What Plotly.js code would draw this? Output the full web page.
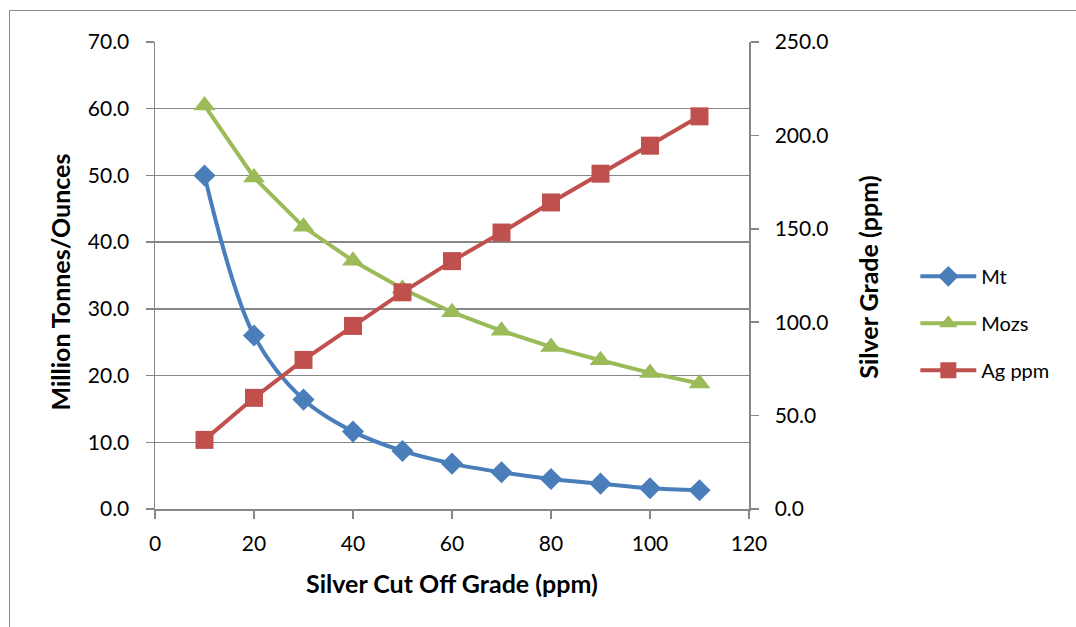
<!DOCTYPE html>
<html>
<head>
<meta charset="utf-8">
<script src="https://cdn.plot.ly/plotly-3.0.1.min.js"></script>
<style>
html,body{margin:0;padding:0;background:#fff;}
#wrap{position:relative;width:1076px;height:627px;overflow:hidden;}
#chart{position:absolute;left:0;top:0;width:1076px;height:627px;}
#frame{position:absolute;left:9px;top:10px;width:1080px;height:630px;border:1px solid #8c8c8c;pointer-events:none;}
</style>
</head>
<body>
<div id="wrap"><div id="chart"></div><div id="frame"></div></div>
<script>
const cutOff = [10, 20, 30, 40, 50, 60, 70, 80, 90, 100, 110];
const mt   = [50.0, 26.0, 16.4, 11.6, 8.7, 6.8, 5.5, 4.5, 3.8, 3.1, 2.8];
const mozs = [60.5, 49.7, 42.3, 37.2, 33.0, 29.5, 26.7, 24.3, 22.3, 20.4, 18.8];
const agPpm = [37.0, 59.5, 79.8, 98.0, 116.0, 132.7, 148.0, 164.1, 179.5, 194.5, 210.2];
const xTicks = [0, 20, 40, 60, 80, 100, 120];
const yLeftTicks = [0, 10, 20, 30, 40, 50, 60, 70];
const yRightTicks = [0, 50, 100, 150, 200, 250];
const xTitle = 'Silver Cut Off Grade (ppm)';
const yLeftTitle = 'Million Tonnes/Ounces';
const yRightTitle = 'Silver Grade (ppm)';

const F = 'Lato, "Open Sans", sans-serif';
const grid = '#878787';

const traces = [
  {x: cutOff, y: mt, name: 'Mt', type: 'scatter', mode: 'lines+markers',
   line: {color: '#4A7EBB', width: 4, shape: 'spline', smoothing: 1},
   marker: {symbol: 'diamond', size: 17, color: '#4A7EBB'},
   legendgroup: 'a'},
  {x: cutOff, y: mozs, name: 'Mozs', type: 'scatter', mode: 'lines+markers',
   line: {color: '#9BBB59', width: 4},
   marker: {symbol: 'triangle-up', size: 19, color: '#9BBB59'},
   legendgroup: 'b'},
  {x: cutOff, y: agPpm, name: 'Ag ppm', type: 'scatter', mode: 'lines+markers', yaxis: 'y2',
   line: {color: '#C0504D', width: 4},
   marker: {symbol: 'square', size: 18, color: '#C0504D'},
   legendgroup: 'c'}
];

const titleFont = {family: F, size: 25, color: '#000'};

const layout = {
  width: 1076, height: 627,
  margin: {l: 155, r: 327, t: 42, b: 118},
  paper_bgcolor: '#fff', plot_bgcolor: '#fff',
  font: {family: F, size: 21, color: '#000'},
  showlegend: true,
  legend: {x: 1.28, xanchor: 'left', y: 0.54, yanchor: 'top',
    font: {family: F, size: 20, color: '#000'}, tracegroupgap: 18,
    itemwidth: 56,
    bgcolor: 'rgba(0,0,0,0)'},
  xaxis: {range: [0, 120], tickvals: xTicks, ticktext: xTicks.map(String),
    showgrid: false, zeroline: false, showline: true, linecolor: grid, linewidth: 1.5,
    ticks: 'outside', ticklen: 8, tickcolor: grid, tickwidth: 1.5,
    ticklabelstandoff: 7,
    tickfont: {family: F, size: 21}},
  yaxis: {range: [0, 70], tickvals: yLeftTicks, ticktext: yLeftTicks.map(v => v.toFixed(1)),
    showgrid: true, gridcolor: grid, gridwidth: 1.5, zeroline: false,
    showline: true, linecolor: grid, linewidth: 1.5,
    ticks: 'outside', ticklen: 8, tickcolor: grid, tickwidth: 1.5,
    ticklabelstandoff: 12,
    tickfont: {family: F, size: 21}},
  yaxis2: {range: [0, 250], tickvals: yRightTicks, ticktext: yRightTicks.map(v => v.toFixed(1)),
    overlaying: 'y', side: 'right', showgrid: false, zeroline: false,
    showline: true, linecolor: grid, linewidth: 1.5,
    ticks: 'outside', ticklen: 8, tickcolor: grid, tickwidth: 1.5,
    ticklabelstandoff: 12,
    tickfont: {family: F, size: 21}},
  annotations: [
    {text: '<b>' + xTitle + '</b>', xref: 'paper', yref: 'paper', x: 0.5, y: -0.158,
     xanchor: 'center', yanchor: 'middle', showarrow: false, font: titleFont},
    {text: '<b>' + yLeftTitle + '</b>', xref: 'paper', yref: 'paper', x: -0.16, y: 0.487,
     xanchor: 'center', yanchor: 'middle', textangle: -90, showarrow: false, font: titleFont},
    {text: '<b>' + yRightTitle + '</b>', xref: 'paper', yref: 'paper', x: 1.2, y: 0.497,
     xanchor: 'center', yanchor: 'middle', textangle: -90, showarrow: false, font: titleFont}
  ]
};

Plotly.newPlot('chart', traces, layout, {displayModeBar: false, staticPlot: true});
</script>
</body>
</html>
